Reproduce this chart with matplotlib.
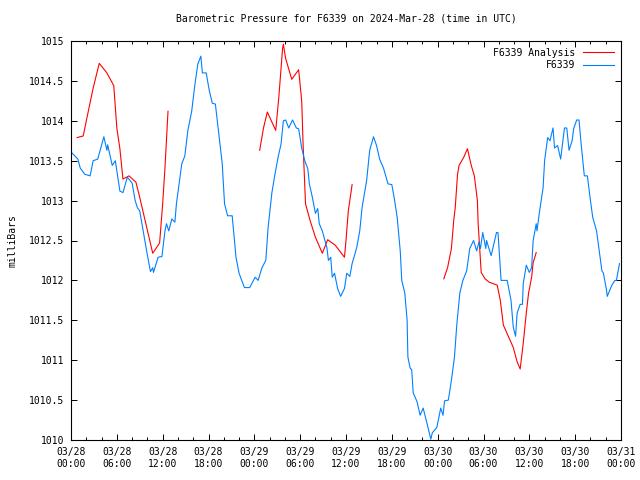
import numpy as np
import matplotlib
matplotlib.use("Agg")
import matplotlib.pyplot as plt

# hours since 2024-03-28 00:00 UTC
obs_hours = [0.1, 0.9, 1.2, 1.8, 2.5, 2.9, 3.5, 4.3, 4.7, 4.8, 5.4, 5.8, 6.4, 6.8, 7.3, 7.4,
             8.0, 8.4, 8.7, 9.0, 9.4, 9.9, 10.4, 10.7, 10.8, 11.4, 11.9, 12.3, 12.5, 12.8, 13.2,
             13.6, 13.8, 14.0, 14.5, 14.9, 15.3, 15.8, 16.2, 16.6, 17.0, 17.2, 17.7, 18.1, 18.5,
             18.9, 19.3, 19.8, 20.1, 20.5, 21.1, 21.6, 22.0, 22.7, 23.4, 24.1, 24.5, 25.0, 25.5,
             25.8, 26.3, 26.7, 27.1, 27.5, 27.8, 28.1, 28.5, 29.0, 29.5, 29.8, 30.2, 30.6, 31.0,
             31.2, 31.6, 32.0, 32.3, 32.5, 32.9, 33.5, 33.7, 34.0, 34.2, 34.5, 34.9, 35.3, 35.8,
             36.1, 36.5, 36.8, 37.4, 37.8, 38.1, 38.7, 39.1, 39.6, 40.0, 40.4, 40.9, 41.5, 42.0,
             42.3, 42.7, 43.1, 43.3, 43.7, 44.0, 44.1, 44.4, 44.6, 44.8, 45.3, 45.7, 46.1, 46.6,
             47.1, 47.3, 47.9, 48.4, 48.7, 48.9, 49.4, 49.8, 50.2, 50.5, 50.9, 51.3, 51.8, 52.2,
             52.7, 53.1, 53.4, 53.6, 53.9, 54.3, 54.4, 55.0, 55.7, 55.9, 56.3, 57.1, 57.6, 57.9,
             58.2, 58.4, 58.8, 59.1, 59.2, 59.6, 60.0, 60.3, 60.5, 60.9, 61.0, 61.3, 61.8, 62.0,
             62.4, 62.7, 63.1, 63.3, 63.7, 64.1, 64.6, 64.9, 65.2, 65.6, 65.8, 66.2, 66.5, 66.8,
             67.2, 67.6, 68.0, 68.3, 68.8, 69.1, 69.5, 69.7, 70.1, 70.2, 70.8, 71.2, 71.4, 71.8]
obs_mb = [1013.6, 1013.52, 1013.41, 1013.33, 1013.31, 1013.5, 1013.52, 1013.8, 1013.63, 1013.7,
          1013.44, 1013.5, 1013.12, 1013.1, 1013.27, 1013.29, 1013.22, 1013.0, 1012.91, 1012.87,
          1012.65, 1012.37, 1012.11, 1012.16, 1012.1, 1012.29, 1012.3, 1012.62, 1012.71, 1012.62,
          1012.77, 1012.73, 1012.96, 1013.1, 1013.46, 1013.56, 1013.88, 1014.12, 1014.44, 1014.71,
          1014.81, 1014.6, 1014.6, 1014.38, 1014.22, 1014.21, 1013.88, 1013.46, 1012.96, 1012.81,
          1012.81, 1012.29, 1012.09, 1011.91, 1011.91, 1012.04, 1012.0, 1012.16, 1012.25, 1012.66,
          1013.1, 1013.33, 1013.54, 1013.71, 1014.0, 1014.01, 1013.91, 1014.01, 1013.91, 1013.9,
          1013.66, 1013.5, 1013.4, 1013.21, 1013.04, 1012.84, 1012.9, 1012.71, 1012.62, 1012.41,
          1012.25, 1012.29, 1012.04, 1012.09, 1011.9, 1011.8, 1011.9, 1012.09, 1012.05, 1012.21,
          1012.41, 1012.62, 1012.91, 1013.25, 1013.63, 1013.8, 1013.69, 1013.52, 1013.41, 1013.21,
          1013.2, 1013.04, 1012.79, 1012.37, 1012.0, 1011.84, 1011.5, 1011.04, 1010.9, 1010.88,
          1010.59, 1010.48, 1010.31, 1010.4, 1010.21, 1010.01, 1010.09, 1010.16, 1010.4, 1010.31,
          1010.49, 1010.5, 1010.75, 1011.04, 1011.44, 1011.84, 1012.0, 1012.12, 1012.4, 1012.5,
          1012.37, 1012.48, 1012.4, 1012.6, 1012.4, 1012.5, 1012.31, 1012.6, 1012.6, 1012.0,
          1012.0, 1011.75, 1011.41, 1011.3, 1011.59, 1011.7, 1011.7, 1011.96, 1012.19, 1012.1,
          1012.16, 1012.5, 1012.71, 1012.62, 1012.84, 1013.16, 1013.5, 1013.79, 1013.75, 1013.91,
          1013.66, 1013.69, 1013.52, 1013.91, 1013.91, 1013.63, 1013.75, 1013.9, 1014.01, 1014.01,
          1013.69, 1013.31, 1013.31, 1013.0, 1012.79, 1012.62, 1012.41, 1012.12, 1012.09, 1011.88,
          1011.8, 1011.94, 1012.0, 1012.0, 1012.21]

# analysis comes in three runs, separated by gaps (nan)
ana_hours = [0.8, 1.6, 2.2, 2.9, 3.7, 4.7, 5.6, 6.0, 6.4, 6.8, 7.6, 8.5, 9.0, 9.8, 10.7, 11.6,
             12.0, 12.3, 12.7, np.nan,
             24.7, 25.2, 25.7, 26.8, 27.2, 27.7, 27.8, 28.1, 28.9, 29.8, 30.2, 30.4, 30.7, 31.3,
             32.0, 32.9, 33.6, 34.6, 35.8, 36.0, 36.3, 36.8, np.nan,
             48.8, 49.3, 49.8, 50.1, 50.3, 50.6, 50.8, 51.4, 51.9, 52.4, 52.8, 53.2, 53.3, 53.7,
             54.2, 54.7, 55.8, 56.2, 56.6, 57.2, 57.9, 58.4, 58.8, 59.2, 59.6, 59.9, 60.3, 60.5,
             60.9]
ana_mb = [1013.79, 1013.81, 1014.09, 1014.41, 1014.72, 1014.6, 1014.44, 1013.91, 1013.65,
          1013.27, 1013.31, 1013.23, 1013.04, 1012.71, 1012.34, 1012.47, 1012.96, 1013.41,
          1014.12, np.nan,
          1013.63, 1013.91, 1014.11, 1013.88, 1014.29, 1014.91, 1014.96, 1014.78, 1014.52,
          1014.64, 1014.25, 1013.66, 1012.96, 1012.75, 1012.54, 1012.34, 1012.51, 1012.44,
          1012.29, 1012.5, 1012.87, 1013.2, np.nan,
          1012.02, 1012.16, 1012.4, 1012.75, 1012.91, 1013.33, 1013.44, 1013.54, 1013.65,
          1013.44, 1013.31, 1013.0, 1012.71, 1012.1, 1012.02, 1011.98, 1011.94, 1011.75,
          1011.44, 1011.31, 1011.16, 1010.98, 1010.89, 1011.21, 1011.59, 1011.84, 1012.04,
          1012.22, 1012.35]

tick_hours = list(range(0, 73, 6))
tick_labels = ["03/28\n00:00", "03/28\n06:00", "03/28\n12:00", "03/28\n18:00",
               "03/29\n00:00", "03/29\n06:00", "03/29\n12:00", "03/29\n18:00",
               "03/30\n00:00", "03/30\n06:00", "03/30\n12:00", "03/30\n18:00",
               "03/31\n00:00"]
y_ticks = [1010, 1010.5, 1011, 1011.5, 1012, 1012.5, 1013, 1013.5, 1014, 1014.5, 1015]

plt.rcParams["font.family"] = "DejaVu Sans Mono"
plt.rcParams["font.size"] = 7

fig = plt.figure(figsize=(6.4, 4.8), dpi=100)
ax = fig.add_axes([71 / 640, 1 - 440 / 480, 550 / 640, 399 / 480])

ax.plot(ana_hours, ana_mb, color="#ff0000", lw=0.8, label="F6339 Analysis")
ax.plot(obs_hours, obs_mb, color="#0080ff", lw=0.8, label="F6339")

ax.set_xlim(0, 72)
ax.set_ylim(1010, 1015)
ax.set_xticks(tick_hours)
ax.set_xticklabels(tick_labels)
ax.set_xticks(range(0, 73, 2), minor=True)
ax.set_yticks(y_ticks)
ax.set_yticklabels([f"{v:g}" for v in y_ticks])
ax.tick_params(direction="in", top=True, right=True, length=4.5, width=0.7, pad=5)
ax.tick_params(which="minor", direction="in", top=True, right=True, length=2.5, width=0.7)
for s in ax.spines.values():
    s.set_linewidth(0.8)

ax.set_title("Barometric Pressure for F6339 on 2024-Mar-28 (time in UTC)", fontsize=7, pad=14)
ax.set_ylabel("milliBars", labelpad=8)

ax.legend(loc="upper right", frameon=False, markerfirst=False, handlelength=3.2,
          fontsize=7, borderaxespad=0.3, labelspacing=0.25, handletextpad=0.8)

fig.savefig("out.png", dpi=100)
